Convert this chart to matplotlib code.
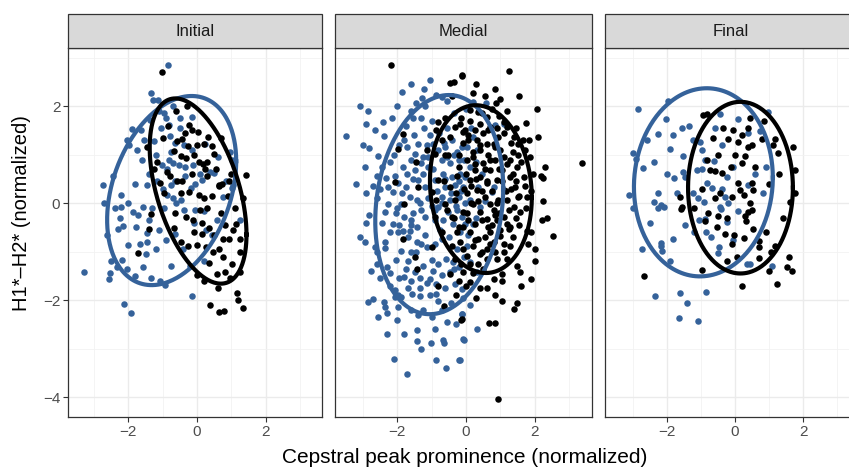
import numpy as np
import matplotlib
matplotlib.use("Agg")
import matplotlib.pyplot as plt
from matplotlib.patches import Rectangle

plt.rcParams['font.family'] = ['Liberation Sans', 'DejaVu Sans']

# facet names
panels = ["Initial", "Medial", "Final"]

# points: (cepstral peak prominence, H1*-H2*)
initial_blue = [
    (-0.84, 2.85), (-1.35, 2.28), (-1.28, 2.12), (-1.13, 2.12), (-0.97, 1.85), (-0.9, 1.76),
    (-0.16, 1.78), (-1.37, 1.72), (-0.82, 1.61), (-1.62, 1.5), (-1.9, 1.52), (-2.05, 1.3),
    (-1.98, 1.19), (-0.51, 1.54), (-0.79, 1.38), (-0.63, 1.25), (-0.39, 1.19), (-1.26, 1.28),
    (0.24, 1.23), (-0.77, 1.06), (-0.82, 0.9), (-0.7, 0.83), (-0.53, 0.78), (-0.34, 0.74),
    (-0.12, 0.78), (-0.89, 0.71), (-1.03, 0.78), (0.97, 1.06), (1.01, 0.88), (0.39, 0.64),
    (0.5, 0.63), (-0.07, 0.4), (0.14, 0.47), (-2.75, 0.38), (-2.46, 0.57), (-1.47, 0.38),
    (-1.16, 0.45), (-0.77, 0.37), (-0.63, 0.45), (0.85, 0.45), (1.06, 0.37),
    (-2.22, 0.17), (-2.22, -0.07), (-2.24, -0.31), (-2.17, -0.47), (-2.3, -0.53), (-2.63, -0.66),
    (-1.86, -0.19), (-1.72, -0.24), (-1.57, -0.07), (-1.79, -0.49), (-1.3, -0.1), (-0.95, -0.09),
    (-1.11, -0.56), (-1.45, -0.61), (-1.47, -0.81), (-2.0, -0.87), (-1.5, -1.04), (-2.51, -1.2),
    (-2.34, -1.32), (-2.19, -1.18), (-2.53, -1.44), (-2.56, -1.56), (-2.03, -1.35), (-1.57, -1.32),
    (-3.3, -1.41), (-1.08, -1.6), (-0.94, -1.68), (-0.14, -1.91), (-2.14, -2.08), (-1.93, -2.26),
    (-0.65, -0.63), (-0.1, -0.4), (-0.39, -0.14), (-0.48, 0.07), (0.19, -0.17), (-0.7, 0.1),
    (-0.87, 0.17), (-0.19, 0.31), (0.58, -0.35), (0.77, 0.12), (1.01, 0.31), (1.24, -0.35),
    (0.19, -1.2), (0.43, -0.66),
    (-1.6, 0.9), (-1.4, 0.6), (-1.8, 0.4), (-2.0, 0.0), (-1.75, 1.1), (-1.55, 1.3),
    (-1.2, 1.0), (-1.0, 0.3), (-0.6, 0.0), (-0.35, 0.55), (-0.15, 1.1), (-0.5, 1.75),
    (-1.1, 1.9), (-1.4, -0.35), (-1.2, -0.95), (-1.8, -1.5), (-1.35, -1.55), (-0.75, -1.3),
    (-0.4, -0.95), (-0.2, -1.3), (0.1, 0.6), (0.25, -0.55), (-2.4, -0.1), (-2.7, 0.0),
    (-1.65, -0.85), (-0.9, -0.75), (-0.05, -0.15), (0.6, 0.95), (-1.05, 1.55), (-0.7, 2.0),
]
initial_black = [
    (-1.03, 2.71), (-0.24, 1.62), (-0.14, 1.5), (0.03, 1.46), (-0.45, 1.33), (-0.58, 1.29),
    (-0.26, 1.18), (0.19, 1.21), (0.43, 1.18), (0.31, 1.37), (-1.47, 1.16), (-0.68, 1.08),
    (-0.48, 0.97), (-0.31, 0.94), (-0.08, 0.99), (0.07, 0.85), (0.16, 0.81), (0.24, 0.71),
    (0.48, 1.01), (0.72, 0.4), (0.63, 0.37), (0.94, 0.46), (1.43, 0.59), (-1.18, 0.85),
    (-1.24, 0.71), (-0.87, 0.64), (-1.08, 0.42), (-0.58, 0.45), (-0.43, 0.46), (0.29, 0.85),
    (-0.97, 0.21), (-0.48, 0.21), (-0.24, 0.24), (0.05, 0.17), (0.19, 0.1), (0.43, 0.14),
    (0.63, 0.35), (0.29, -0.1), (-0.31, -0.28), (-0.12, -0.35), (0.13, -0.4), (0.34, -0.52),
    (0.7, -0.21), (0.82, -0.45), (1.14, -0.42), (-1.35, -0.23), (-1.4, -0.53), (-0.68, -0.52),
    (-0.48, -0.81), (-0.27, -0.88), (0.0, -0.87), (0.14, -0.63), (0.63, -0.94), (0.77, -0.73),
    (0.94, -0.74), (1.24, -0.74), (0.77, -1.11), (1.01, -1.25), (0.34, -1.24), (0.58, -1.46),
    (0.82, -1.42), (1.26, -1.41), (0.0, -1.49), (0.19, -1.6), (0.37, -2.1), (0.63, -2.24),
    (0.79, -2.22), (1.19, -2.0), (1.33, -2.17), (-1.72, -1.02),
    (-0.6, 1.9), (-0.35, 1.45), (0.0, 1.2), (0.3, 0.55), (0.55, 0.7), (0.9, 0.15),
    (1.1, -0.1), (1.25, -1.0), (1.05, -0.55), (0.5, -0.65), (0.25, -0.9), (-0.1, -0.6),
    (-0.65, -0.2), (-0.8, 0.55), (-1.0, 1.35), (-0.15, 0.6), (0.1, -0.15), (0.45, -1.0),
    (0.95, -1.55), (1.15, -1.85), (0.6, -1.75), (1.35, 0.1), (-0.3, 2.0), (-0.85, 1.6),
    (0.7, 1.35), (1.0, 0.6),
]
medial_blue = [
    (-3.07, 2.0), (-2.86, 1.9), (-2.91, 1.64), (-2.42, 1.68), (-2.15, 1.75), (-3.49, 1.38),
    (-2.81, 1.13), (-2.57, 0.97), (-2.94, 0.74), (-2.39, 1.38), (-2.22, 0.85), (-1.22, 2.36),
    (-1.46, 2.07), (-1.28, 2.16), (-0.86, 2.23), (-0.71, 2.19), (-1.59, 1.9), (-1.54, 1.75),
    (-1.0, 1.7), (-1.22, 1.54), (-1.79, 1.31), (-1.71, 1.15), (-1.4, 1.23), (-1.15, 1.2),
    (-1.49, 1.02), (-1.25, 0.96), (-1.61, 0.89), (-1.83, 0.75), (-1.71, 0.61), (-2.08, 0.56),
    (-2.32, 0.51), (-2.28, 0.34), (-2.13, 0.23), (-2.71, 0.35), (-1.98, 0.41), (-1.74, 0.34),
    (-1.49, 0.68), (-1.3, 0.82), (-1.1, 0.75), (-1.4, 0.47), (-1.2, 0.34), (-1.64, 0.13),
    (-1.88, -0.01), (-1.44, 0.06), (-2.27, -0.01), (-2.37, -0.18), (-2.03, -0.21), (-1.79, -0.28),
    (-2.13, -0.42), (-2.81, -0.25), (-1.3, -0.14), (-1.2, -0.28), (-0.91, -0.35), (-1.59, -0.35),
    (-1.44, -0.49), (-0.96, 1.23), (-0.81, 1.09), (-0.61, 1.16), (-0.42, 1.3), (-0.27, 1.06),
    (-0.13, 1.16), (-0.71, 0.89), (-0.47, 0.82), (-0.22, 0.89), (-0.66, 0.61), (-0.42, 0.54),
    (-0.18, 0.61), (-0.91, 0.47), (-0.61, 0.34), (-0.32, 0.37), (-0.08, 0.34), (-0.71, 0.13),
    (-0.47, 0.06), (-0.22, 0.13), (-0.81, -0.08), (-0.52, -0.18), (-0.27, -0.14), (-0.03, 0.0),
    (-0.66, -0.35), (-0.37, -0.42), (-0.13, -0.28),
    (0.21, 2.09), (0.58, 2.07), (0.84, 1.61), (1.09, 1.64), (0.21, 1.37), (0.02, 1.16),
    (0.31, 1.09), (0.12, 0.75), (-0.03, 0.54), (0.36, 0.34), (0.12, 0.06), (0.41, -0.08),
    (0.75, 0.23), (0.8, 0.34), (-0.03, -0.42), (0.21, -0.42),
    (-3.07, -0.69), (-2.95, -0.81), (-2.37, -0.93), (-1.98, -0.6), (-1.83, -0.57), (-1.64, -0.57),
    (-1.44, -0.81), (-1.3, -0.84), (-1.15, -0.91), (-0.91, -0.84), (-0.71, -0.74), (-1.59, -1.01),
    (-1.88, -0.98), (-2.03, -1.18), (-2.29, -1.32), (-2.59, -1.25), (-1.74, -1.36), (-1.49, -1.42),
    (-1.25, -1.29), (-1.0, -1.18), (-0.81, -1.25), (-0.57, -1.15), (-0.37, -1.22), (-1.79, -1.53),
    (-1.59, -1.6), (-1.35, -1.55), (-1.05, -1.56), (-0.86, -1.66), (-0.71, -1.49), (-0.47, -1.42),
    (-0.32, -1.66), (-2.06, -1.8), (-1.98, -1.9), (-2.08, -1.94), (-1.88, -1.94), (-1.57, -1.87),
    (-1.35, -1.92), (-1.05, -1.9), (-0.86, -1.87), (-0.81, -2.01), (-2.84, -2.03), (-2.71, -1.97),
    (-2.39, -2.04), (-2.35, -2.14), (-2.29, -2.26), (-2.57, -2.35), (-1.98, -2.14), (-1.25, -2.21),
    (-1.0, -2.35), (-0.13, -2.28), (-1.44, -2.61), (-1.42, -2.85), (-1.02, -2.88), (-0.66, -2.83),
    (-0.65, -2.88), (-0.08, -2.81), (-2.1, -3.22), (-0.88, -3.24), (-0.2, -3.24), (-0.59, -3.39),
    (-1.71, -3.53), (-0.22, -1.32), (-0.13, -1.77),
    (-0.17, -0.6), (0.02, -0.88), (0.31, -1.42), (0.12, -1.22), (-0.13, -2.28), (0.31, -2.59),
    (-0.06, -2.82), (-0.17, -3.24),
    (-2.6, 0.1), (-2.45, -0.4), (-2.2, -0.6), (-1.95, -0.45), (-1.7, -0.7), (-1.55, -0.2),
    (-1.35, 0.0), (-1.1, 0.1), (-1.0, -0.05), (-0.85, 0.25), (-0.6, 0.5), (-0.45, 0.2),
    (-0.3, -0.05), (-0.15, 0.25), (-0.55, 0.95), (-0.35, 1.0), (-0.05, 0.9), (-1.05, 1.4),
    (-0.8, 1.45), (-0.55, 1.55), (-1.3, 1.75), (-1.75, 1.6), (-1.95, 1.2), (-2.1, 1.0),
    (-2.45, 0.75), (-2.6, 0.55), (-1.85, 0.2), (-1.55, 0.5), (-1.25, 0.6), (-0.95, 0.7),
    (-0.75, -0.55), (-0.5, -0.7), (-0.25, -0.95), (-0.05, -1.1), (-1.2, -0.65), (-1.45, -1.0),
    (-1.7, -1.2), (-1.95, -1.55), (-2.2, -1.7), (-2.5, -1.55), (-2.75, -1.4), (-1.6, -2.2),
    (-1.4, -2.3), (-1.15, -1.65), (-0.95, -1.4), (-0.6, -1.75), (-0.45, -2.05), (-0.3, -2.5),
    (-0.55, -2.45), (-2.0, -2.4), (-2.2, -1.45), (-2.35, -0.8), (-2.65, -0.9), (-2.9, -0.4),
    (-3.2, 0.4), (-3.0, 1.2), (-2.65, 1.5), (-2.0, 2.0), (-1.85, 2.3), (-1.6, 2.45),
    (-1.05, 2.55), (-0.55, 2.1), (-0.35, 1.85), (0.0, 1.95), (0.15, 1.55), (0.3, 0.85),
    (0.45, 0.6), (0.55, 0.05), (0.3, -0.3), (0.05, -0.65), (-0.1, -1.95), (0.1, -2.1),
    (-1.3, -3.0), (-0.9, -2.6), (-2.3, -2.7), (-1.8, -2.7), (-2.6, -1.0), (-1.2, 2.0),
    (-1.5, 1.4), (-1.1, 0.95), (-0.65, 1.25), (-0.2, 0.45), (-0.9, -0.15), (-0.7, 0.0),
    (-1.6, -0.45), (-2.0, -0.1), (-2.5, 0.3), (-2.9, 0.2), (-1.35, -1.75), (-1.7, -1.75),
    (-0.7, -2.2), (-0.35, -1.35),
]
medial_black = [
    (-2.18, 2.85), (-0.13, 2.62), (-0.47, 2.47), (-0.34, 2.5), (-1.83, 1.42), (-1.98, 1.11),
    (-0.81, 1.68), (-0.61, 1.75), (-0.32, 1.57), (-0.86, 1.5), (-0.18, 1.64), (-0.08, 1.47),
    (-0.47, 1.37), (-0.71, 1.3), (-0.91, 1.02), (-0.52, 0.99), (-0.22, 0.75), (-0.81, 0.47),
    (-0.47, 0.34), (-1.0, 0.23), (-0.86, 0.06), (-0.61, -0.01), (-0.32, 0.06), (-0.08, -0.18),
    (-0.42, -0.28), (-1.4, 0.34), (-2.08, 0.44), (-1.79, -0.01), (-0.91, -0.28), (-0.22, -0.49),
    (-0.13, 2.64), (1.26, 2.73), (0.19, 2.27), (0.87, 2.07), (1.83, 1.31), (2.09, 1.37),
    (2.28, 0.75), (2.17, 0.56), (2.23, 0.51), (3.37, 0.83), (2.2, -0.34), (1.28, -0.49),
    (1.57, -0.18), (1.52, 0.13), (1.77, 0.13), (1.72, 1.09), (1.52, 1.23), (1.38, 1.37),
    (1.18, 1.57), (1.09, 1.68), (1.28, 0.89), (1.48, 0.75), (1.67, 0.54), (1.28, 0.54),
    (1.43, 0.34), (1.18, 0.06), (1.38, -0.08), (1.09, -0.28), (1.18, -0.42), (0.94, 1.37),
    (0.8, 1.23), (0.99, 1.09), (0.85, 0.89), (1.04, 0.68), (0.89, 0.47), (1.09, 0.27),
    (0.94, 0.06), (0.8, -0.14), (0.89, -0.35), (0.65, -0.49), (0.6, 1.78), (0.41, 1.64),
    (0.7, 1.57), (0.5, 1.44), (0.31, 1.3), (0.6, 1.23), (0.41, 1.09), (0.65, 0.99),
    (0.21, 0.96), (0.5, 0.82), (0.02, 0.89), (0.26, 0.68), (0.7, 0.68), (0.41, 0.54),
    (0.12, 0.47), (0.6, 0.41), (0.31, 0.27), (0.02, 0.2), (0.56, 0.13), (0.21, -0.01),
    (0.7, -0.01), (0.41, -0.18), (0.02, -0.21), (0.6, -0.32), (0.26, -0.42), (-0.08, -0.49),
    (0.12, 1.92), (0.36, 1.88), (-0.03, 1.5), (0.07, 1.3),
    (-1.83, -0.74), (-1.49, -1.12), (-1.44, -1.36), (-0.81, -1.71), (-0.63, -2.12), (-0.2, -1.6),
    (-0.15, -2.4), (-0.47, -1.46), (-0.42, -0.88), (-0.18, -0.81), (-0.32, -1.15),
    (2.54, -0.68), (1.48, -1.3), (1.57, -1.42), (1.88, -1.56), (0.8, -1.56), (1.04, -1.46),
    (0.84, -1.89), (1.04, -2.01), (1.48, -2.06), (1.38, -2.18), (0.68, -2.47), (0.84, -2.47),
    (0.94, -4.03), (0.41, -1.75), (0.12, -1.63), (-0.13, -2.38), (1.28, -0.88), (1.09, -1.01),
    (0.89, -1.15), (1.24, -0.53), (0.99, -0.67), (0.8, -0.81), (0.6, -0.95), (0.41, -1.05),
    (0.21, -0.88), (0.02, -1.08), (0.36, -0.74), (0.7, -0.6), (0.12, -0.6), (1.77, -0.57),
    (0.5, -1.36), (-0.08, -1.42),
    (0.1, 1.7), (0.25, 1.5), (0.45, 1.85), (0.75, 1.95), (0.95, 1.8), (1.2, 1.9),
    (0.55, 2.2), (0.85, 2.35), (1.45, 1.55), (1.65, 1.3), (1.85, 0.95), (1.95, 0.6),
    (1.9, 0.25), (1.75, -0.1), (1.55, -0.45), (1.35, -0.7), (1.1, -0.85), (0.85, -1.0),
    (0.6, -1.15), (0.35, -1.25), (0.1, -1.25), (-0.1, -0.95), (-0.25, -0.6), (-0.35, -0.3),
    (-0.3, 0.2), (-0.25, 0.55), (-0.2, 1.0), (-0.1, 1.25), (0.0, 0.6), (0.15, 0.35),
    (0.35, 0.05), (0.45, -0.35), (0.55, -0.7), (0.75, -0.45), (0.95, -0.2), (1.05, 0.45),
    (1.2, 0.8), (1.35, 1.05), (1.1, 1.45), (0.85, 1.15), (0.7, 0.9), (0.55, 0.7),
    (0.75, 0.25), (0.9, 0.0), (1.25, -0.15), (1.45, 0.45), (1.6, 0.85), (1.35, 0.6),
    (1.15, 0.25), (1.0, -0.55), (0.3, 0.5), (0.15, 0.0), (0.05, -0.35), (0.25, -0.75),
    (-0.05, 0.3), (0.4, 1.2), (0.2, 1.05), (0.65, 1.5), (0.9, 1.55), (1.3, 1.25),
    (1.55, 0.15), (1.7, 0.35), (1.45, -0.3), (0.7, -0.85), (0.45, -1.0), (0.2, -1.45),
    (-0.15, -1.25), (1.9, -0.6), (2.0, -0.95), (1.2, -1.15), (1.05, -1.6), (0.6, -1.75),
    (0.3, -1.95), (1.75, 1.65), (2.05, 1.95), (1.55, 2.2), (0.3, 2.45), (-0.4, 2.2),
    (-0.6, 1.0), (-0.65, 0.45), (-0.55, -0.15), (-0.7, -0.6), (-1.0, -0.9), (-1.15, 1.1),
    (-1.45, 0.85), (0.95, 0.7), (1.1, 0.95), (0.6, 0.45), (0.45, 0.25), (0.85, -0.25),
    (1.3, 0.3), (1.5, 1.0), (0.25, 0.8), (0.05, 1.4), (-0.15, 1.75), (1.0, 2.15),
    (2.25, 0.05), (2.35, -0.3), (1.8, -0.85), (1.6, -1.7), (2.0, -1.2), (0.0, -1.7),
    (-0.3, -1.9),
]
final_blue = [
    (-2.84, 1.94), (-1.96, 2.11), (-2.04, 1.73), (-2.25, 1.42), (-1.57, 1.56), (-1.81, 1.4),
    (-1.91, 1.11), (-1.23, 1.3), (-1.03, 1.26), (-3.01, 1.04), (-2.92, 0.92), (-2.37, 0.85),
    (-2.7, 0.73), (-1.52, 0.97), (-0.98, 1.09), (-0.88, 0.89), (-0.61, 0.87), (-1.13, 0.68),
    (-0.98, 0.71), (-1.52, 0.65), (-1.78, 0.51), (-1.47, 0.54), (-0.44, 1.84), (0.08, 1.73),
    (0.39, 1.44), (-0.39, 1.2), (-0.05, 0.75), (-0.25, 0.53), (0.39, 0.37), (0.96, 1.88),
    (0.74, 1.49), (0.91, 0.75), (0.83, 0.2), (-3.12, 0.16), (-2.25, 0.2), (-2.37, 0.03),
    (-2.17, -0.03), (-0.83, 0.41), (-0.69, 0.32), (-0.39, 0.3), (-0.29, 0.13), (-1.08, 0.1),
    (-0.9, 0.03), (-1.23, 0.2), (-0.44, -0.08),
    (-2.25, -0.09), (-2.08, -0.07), (-1.47, -0.45), (-1.81, -0.74), (-2.18, -0.82), (-2.18, -0.89),
    (-2.14, -0.98), (-2.73, -0.95), (-1.05, -0.34), (-0.88, -0.33), (-0.85, -0.59), (-0.25, -0.38),
    (-0.41, -0.12), (-0.05, -0.75), (-0.46, -0.91), (-0.49, -1.03), (0.34, -1.25), (0.44, -1.25),
    (1.08, -1.29), (0.08, -0.16), (-2.35, -1.92), (-1.62, -1.85), (-1.42, -2.05), (-0.86, -1.84),
    (-1.64, -2.37), (-1.1, -2.44),
    (-2.6, 1.3), (-2.0, 0.6), (-1.7, 0.2), (-1.35, 1.6), (-1.2, -0.6), (-0.7, -0.7),
    (-0.2, 0.0), (-2.5, -0.4), (-1.9, -1.2), (-0.6, 1.55), (0.6, 0.6), (-3.0, -0.1),
]
final_black = [
    (-0.93, 1.81), (-0.83, 1.84), (-0.34, 1.56), (-0.05, 1.5), (0.37, 1.56), (0.2, 1.4),
    (0.37, 1.16), (0.49, 1.2), (0.08, 1.26), (-0.64, 1.35), (-0.22, 1.33), (0.29, 0.97),
    (0.78, 1.33), (1.18, 1.33), (1.13, 1.2), (1.25, 1.04), (1.69, 1.15), (1.76, 0.68),
    (-0.83, 0.89), (-0.74, 0.68), (-0.59, 0.66), (-0.39, 0.63), (-0.13, 0.75), (0.2, 0.83),
    (0.1, 0.41), (0.49, 0.42), (0.54, 0.27), (0.15, 0.27), (0.25, 0.16), (-0.1, 0.13),
    (-0.98, 0.3), (-1.62, 0.13), (-1.57, -0.08), (-0.59, 0.1), (0.44, 0.0), (1.62, 0.03),
    (-1.59, -0.12), (-1.2, -0.09), (-0.78, -0.21), (-0.51, -0.26), (-0.88, -0.36), (-0.54, -0.5),
    (-0.29, -0.64), (-0.02, -0.66), (-0.1, -0.84), (0.27, -0.71), (0.31, -0.36), (0.37, -0.18),
    (0.49, -0.14), (0.54, -0.53), (0.69, -0.77), (0.69, -0.91), (0.29, -0.26), (1.06, -1.01),
    (1.18, -0.88), (1.6, -1.1), (1.52, -1.32), (1.68, -1.4), (0.71, -1.14), (-0.98, -1.38),
    (-2.67, -1.5), (0.2, -1.71), (1.23, -1.66),
    (-0.5, 1.0), (0.0, 1.0), (0.6, 0.75), (1.0, 0.4), (1.3, 0.6), (1.4, -0.3),
    (0.9, -0.6), (-0.25, -0.3), (0.05, -1.1), (0.45, 1.75), (-0.45, 0.2), (1.0, -1.4),
    (1.75, 0.2), (-0.25, -1.2), (0.85, 1.7),
]

# 95% ellipses: centre x, centre y, half-width x, half-height y, correlation
ellipse_blue = [(-0.74, 0.26, 1.88, 1.95, 0.31), (-0.78, -0.03, 1.86, 2.26, 0.15), (-0.93, 0.43, 2.04, 1.94, 0.05)]
ellipse_black = [(0.03, 0.25, 1.41, 1.91, -0.47), (0.43, 0.29, 1.48, 1.73, -0.10), (0.16, 0.32, 1.54, 1.77, 0.0)]

points_blue = [initial_blue, medial_blue, final_blue]
points_black = [initial_black, medial_black, final_black]

x_limits = [(-3.76, 3.64), (-3.81, 3.66), (-3.82, 3.73)]
y_limits = (-4.41, 3.2)

BLUE = "#35629A"
W, H = 849, 469
fig = plt.figure(figsize=(W / 100, H / 100), dpi=100)

panel_px = [(68, 322), (335, 592), (605, 862)]
bottom_px, top_px, strip_top_px = 417, 48, 14


def ellipse_xy(cx, cy, sx, sy, r):
    t = np.linspace(0, 2 * np.pi, 300)
    x = cx + sx * np.cos(t)
    y = cy + sy * (r * np.cos(t) + np.sqrt(1 - r ** 2) * np.sin(t))
    return x, y


for i, name in enumerate(panels):
    l, rgt = panel_px[i]
    ax = fig.add_axes([l / W, 1 - bottom_px / H, (rgt - l) / W, (bottom_px - top_px) / H])
    ax.set_xlim(*x_limits[i])
    ax.set_ylim(*y_limits)
    ax.set_xticks([-2, 0, 2])
    ax.set_xticks([-3, -1, 1, 3], minor=True)
    ax.set_yticks([-4, -2, 0, 2])
    ax.set_yticks([-3, -1, 1, 3], minor=True)
    ax.grid(which="major", color="#EBEBEB", linewidth=1.0, zorder=0)
    ax.grid(which="minor", color="#F2F2F2", linewidth=0.6, zorder=0)
    ax.set_axisbelow(True)
    for sp in ax.spines.values():
        sp.set_color("#333333")
        sp.set_linewidth(0.9)
    ax.tick_params(which="major", length=3.5, width=0.8, color="#333333",
                   labelcolor="#4D4D4D", labelsize=11, pad=2)
    ax.tick_params(which="minor", length=0)
    if i > 0:
        ax.tick_params(axis="y", labelleft=False, length=0)

    bx, by = zip(*points_blue[i])
    kx, ky = zip(*points_black[i])
    ax.scatter(bx, by, s=22, color=BLUE, linewidths=0, zorder=2)
    ax.scatter(kx, ky, s=22, color="black", linewidths=0, zorder=2)

    ex, ey = ellipse_xy(*ellipse_blue[i])
    ax.plot(ex, ey, color=BLUE, linewidth=3.0, zorder=3)
    ex, ey = ellipse_xy(*ellipse_black[i])
    ax.plot(ex, ey, color="black", linewidth=3.0, zorder=3)

    # strip
    sax = fig.add_axes([l / W, 1 - top_px / H, (rgt - l) / W, (top_px - strip_top_px) / H])
    sax.set_xlim(0, 1)
    sax.set_ylim(0, 1)
    sax.axis("off")
    sax.add_patch(Rectangle((0, 0), 1, 1, facecolor="#D9D9D9", edgecolor="#333333",
                            linewidth=0.9, clip_on=False, transform=sax.transAxes))
    label_x = 0.5
    if i == 2:
        label_x = 0.5 * (x_limits[0][1] - x_limits[0][0]) / (x_limits[i][1] - x_limits[i][0])
    sax.text(label_x, 0.5, name, ha="center", va="center", fontsize=12, color="#1A1A1A")

fig.text(0.5 * (68 + 862) / W, 1 - 457 / H, "Cepstral peak prominence (normalized)",
         ha="center", va="center", fontsize=15)
fig.text(22 / W, 1 - 213 / H, "H1*–H2* (normalized)", rotation=90,
         ha="center", va="center", fontsize=14.5)

fig.savefig("out.png", dpi=100)
